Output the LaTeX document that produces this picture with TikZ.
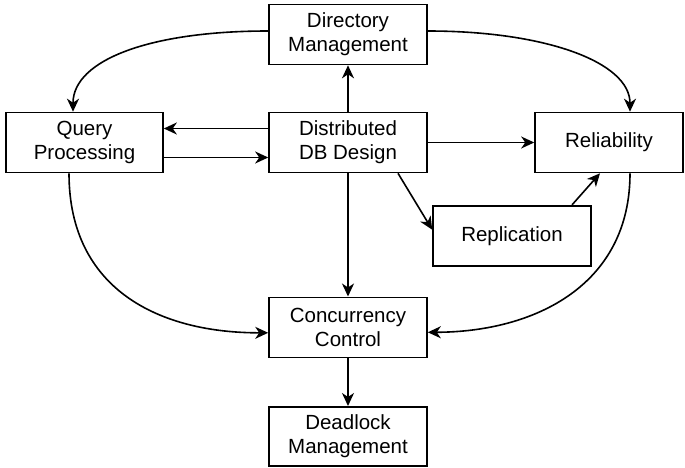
\documentclass[tikz,border=0pt]{standalone}
\usepackage{fontspec}
\setmainfont{Liberation Sans}
\usetikzlibrary{arrows.meta}
\begin{document}
\begin{tikzpicture}[x=1pt,y=-1pt,
  box/.style={draw, line width=1.6pt, minimum width=158pt, minimum height=60pt,
    inner sep=0pt, align=center, font=\fontsize{20.5pt}{24pt}\selectfont},
  conn/.style={line width=1.6pt, -{Stealth[length=13pt,width=12pt,inset=4pt]}}]
\useasboundingbox (0,0) rectangle (685,468);
\node[box] (dir)   at (348,34.5)  {Directory\\Management};
\node[box] (dist)  at (348,142.5) {Distributed\\DB Design};
\node[box, minimum width=157pt] (query) at (84.5,142.5) {Query\\Processing};
\node[box, minimum width=148pt] (rel)   at (609,142.5) {Reliability};
\node[box] (rep)   at (512,235.7) {Replication};
\node[box] (conc)  at (348,327.3) {Concurrency\\Control};
\node[box, minimum height=59pt] (dead)  at (348,436.3) {Deadlock\\Management};

\draw[conn] (dist.north) -- (dir.south);
\draw[conn] ([yshift=14pt]dist.west) -- ([yshift=14pt]query.east);
\draw[conn] ([yshift=-15pt]query.east) -- ([yshift=-15pt]dist.west);
\draw[conn] (dist.east) -- (rel.west);
\draw[conn] ([xshift=50pt]dist.south) -- ([yshift=6pt]rep.west);
\draw[conn] ([xshift=60pt]rep.north) -- ([xshift=-9pt]rel.south);
\draw[conn] (dist.south) -- (conc.north);
\draw[conn] (conc.south) -- (dead.north);

\draw[conn] ([yshift=3.5pt]dir.west) .. controls (150,31) and (73,60) .. ([xshift=-11.5pt]query.north);
\draw[conn] ([yshift=3.5pt]dir.east) .. controls (545,31) and (630,62) .. ([xshift=21pt]rel.north);
\draw[conn] ([xshift=-15.5pt]query.south) .. controls (69,290) and (160,333) .. ([yshift=-5.5pt]conc.west);
\draw[conn] ([xshift=21pt]rel.south) .. controls (630,285) and (535,332) .. ([yshift=-5pt]conc.east);
\end{tikzpicture}
\end{document}
